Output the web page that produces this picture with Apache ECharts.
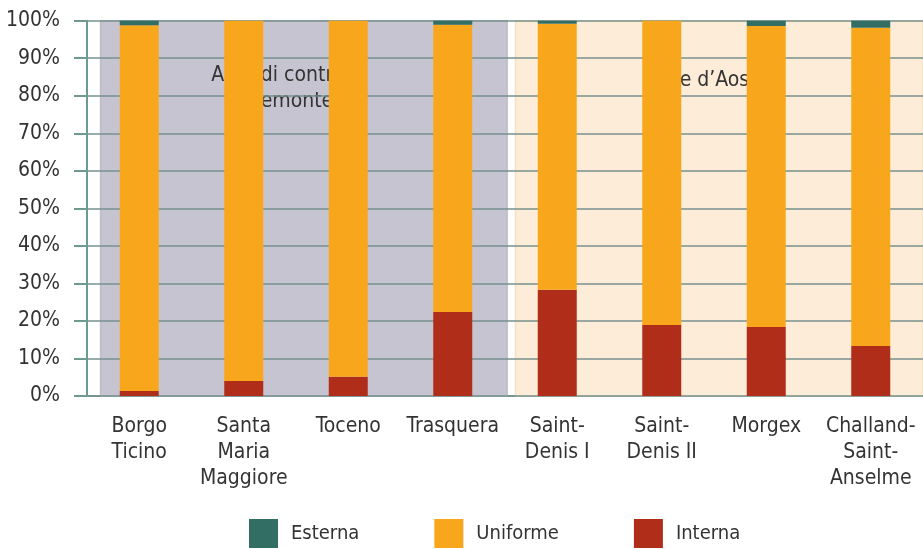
<!DOCTYPE html>
<html><head><meta charset="utf-8">
<script src="https://cdn.jsdelivr.net/npm/echarts@6/dist/echarts.min.js"></script>
<style>html,body{margin:0;padding:0;background:#fff}#c{width:923px;height:549px}</style>
</head><body><div id="c"></div>
<script>
const categories = ['Borgo\nTicino','Santa\nMaria\nMaggiore','Toceno','Trasquera','Saint-\nDenis I','Saint-\nDenis II','Morgex','Challand-\nSaint-\nAnselme'];
const interna  = [1.3, 4.0, 5.1, 22.4, 28.3, 18.9, 18.4, 13.3];
const uniforme = [97.5, 96.0, 94.9, 76.5, 70.9, 81.1, 80.2, 84.8];
const esterna  = [1.2, 0.0, 0.0, 1.1, 0.8, 0.0, 1.4, 1.9];
const yTicks = [0,10,20,30,40,50,60,70,80,90,100];
const regions = [
  {name:'Aree di controllo\n(Piemonte)', from:0.13, to:4.02, color:'#c7c4d2', border:'#bdbac9', dx:-15, dy:38},
  {name:'Valle d\u2019Aosta', from:4.1, to:8.02, color:'#fdecd7', border:'#f9e0bd', dx:-12, dy:43}
];
const FONT = '"Liberation Sans Narrow", "DejaVu Sans Condensed", sans-serif';
const FS = 21;
const chart = echarts.init(document.getElementById('c'), null, {renderer:'canvas'});
const txt = '#333333';
chart.setOption({
  animation:false,
  textStyle:{fontFamily:FONT},
  grid:{left:87, right:-2, top:20.7, bottom:153, containLabel:false},
  legend:{
    left:244, top:514, itemWidth:29, itemHeight:29, itemGap:75,
    icon:'rect',
    data:['Esterna','Uniforme','Interna'],
    textStyle:{fontSize:20, color:txt, fontFamily:FONT, padding:[0,0,0,8]}
  },
  xAxis:[{
    type:'category', data:categories,
    axisLine:{lineStyle:{color:'#6f9a94', width:2}},
    axisTick:{length:10, lineStyle:{color:'#6f9a94', width:2}},
    axisLabel:{fontSize:FS, color:txt, lineHeight:26, margin:18, interval:0, fontFamily:FONT}
  },{
    type:'value', min:0, max:8, show:false
  }],
  yAxis:{
    type:'value', min:0, max:100, interval:10, z:3,
    axisLine:{show:true, lineStyle:{color:'#6f9a94', width:2}},
    axisTick:{show:true, length:13, lineStyle:{color:'#6f9a94', width:2}},
    axisLabel:{formatter:'{value}%', fontSize:FS, color:txt, margin:27, fontFamily:FONT},
    splitLine:{show:true, lineStyle:{color:'#76928e', width:1.6}}
  },
  series:[
    {type:'line', xAxisIndex:1, data:[], z:1, silent:true,
     markArea:{silent:true, data: regions.map(r=>[
       {name:r.name, xAxis:r.from, yAxis:100.4,
        itemStyle:{color:r.color, borderColor:r.border, borderWidth:1.5},
        label:{show:true, position:'insideTop', offset:[r.dx, r.dy], fontSize:FS, color:txt, fontFamily:FONT, lineHeight:26, align:'center'}},
       {xAxis:r.to, yAxis:-0.4}
     ])}},
    {name:'Interna', type:'bar', stack:'s', data:interna, barWidth:39, z:5, itemStyle:{color:'#b02e19'}},
    {name:'Uniforme', type:'bar', stack:'s', data:uniforme, barWidth:39, z:5, itemStyle:{color:'#f8a61c'}},
    {name:'Esterna', type:'bar', stack:'s', data:esterna, barWidth:39, z:5, itemStyle:{color:'#336e65'}}
  ]
});
</script></body></html>
